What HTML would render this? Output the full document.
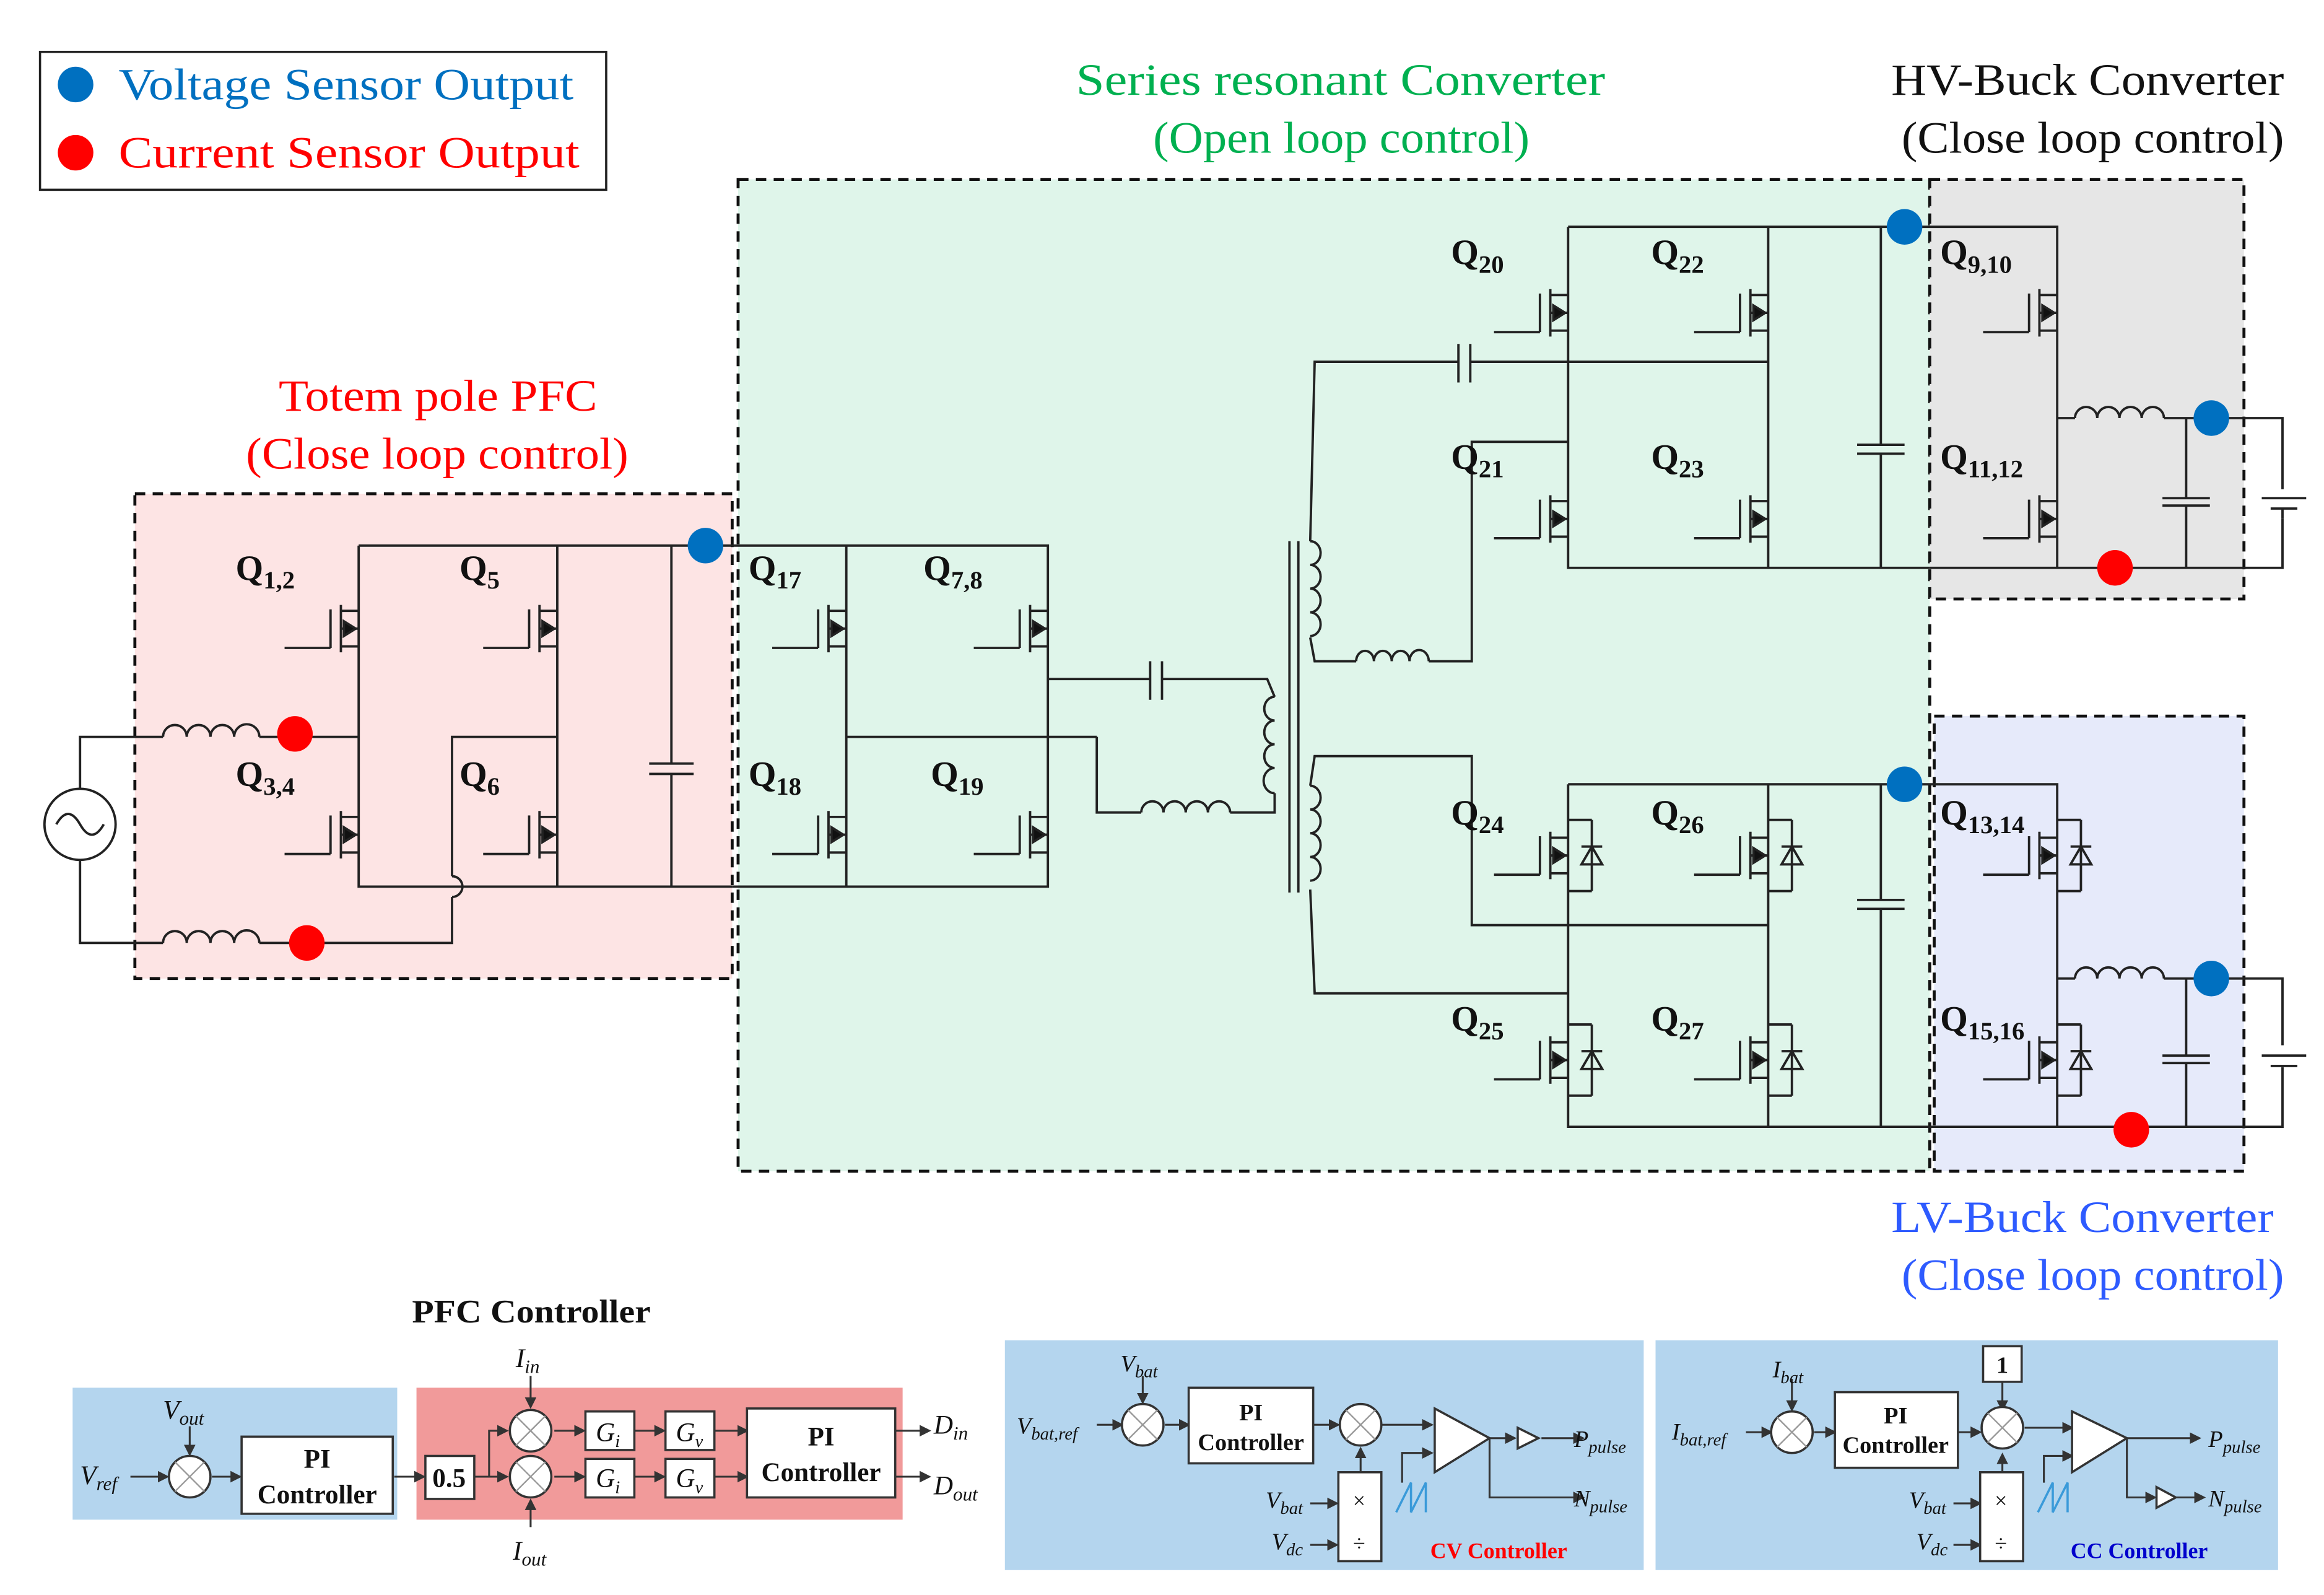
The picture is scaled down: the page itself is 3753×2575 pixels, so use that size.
<!DOCTYPE html>
<html><head><meta charset="utf-8"><style>
html,body{margin:0;padding:0;background:#fff;}
svg{display:block;}
text{font-family:"Liberation Serif",serif;}
</style></head><body>
<svg width="3753" height="2575" viewBox="0 0 1568 1075.8" preserveAspectRatio="none" xmlns="http://www.w3.org/2000/svg">
<defs>
<g id="m" stroke="#222" stroke-width="1.6" fill="none">
<line x1="-12" y1="-16" x2="-12" y2="16"/>
<line x1="-19" y1="-13" x2="-19" y2="13"/>
<line x1="-19" y1="13" x2="-50" y2="13"/>
<line x1="-12" y1="-12" x2="0" y2="-12"/>
<line x1="-12" y1="12" x2="0" y2="12"/>
<line x1="-12" y1="0" x2="0" y2="0"/>
<polygon points="-10,0 -2,-5 -2,5" fill="#111" transform="rotate(180 -6 0)"/>
</g>
<g id="d" stroke="#222" stroke-width="1.6" fill="none">
<use href="#m"/>
<line x1="0" y1="-24" x2="16" y2="-24"/><line x1="16" y1="-24" x2="16" y2="24"/><line x1="0" y1="24" x2="16" y2="24"/>
<polygon points="16,-6 9,6 23,6" fill="none"/><line x1="9" y1="-6" x2="23" y2="-6"/>
</g>
<marker id="a" markerWidth="6" markerHeight="6" refX="5" refY="3" orient="auto"><path d="M0,0 L6,3 L0,6z" fill="#333"/></marker>
</defs>

<!-- legend -->
<rect x="27" y="35" width="382" height="93" fill="#fff" stroke="#222" stroke-width="1.5"/>
<circle cx="51" cy="57" r="12" fill="#0070c0"/>
<circle cx="51" cy="103" r="12" fill="#ff0000"/>
<text x="80" y="67" font-size="30" fill="#0070c0" textLength="307" lengthAdjust="spacingAndGlyphs">Voltage Sensor Output</text>
<text x="80" y="113" font-size="30" fill="#ff0000" textLength="311" lengthAdjust="spacingAndGlyphs">Current Sensor Output</text>

<!-- titles -->
<text x="726" y="64" font-size="30" fill="#00b050" textLength="357" lengthAdjust="spacingAndGlyphs">Series resonant Converter</text>
<text x="778" y="103" font-size="30" fill="#00b050" textLength="254" lengthAdjust="spacingAndGlyphs">(Open loop control)</text>
<text x="1276" y="64" font-size="30" fill="#111" textLength="265" lengthAdjust="spacingAndGlyphs">HV-Buck Converter</text>
<text x="1283" y="103" font-size="30" fill="#111" textLength="258" lengthAdjust="spacingAndGlyphs">(Close loop control)</text>
<text x="188" y="277" font-size="30" fill="#ff0000" textLength="215" lengthAdjust="spacingAndGlyphs">Totem pole PFC</text>
<text x="166" y="316" font-size="30" fill="#ff0000" textLength="258" lengthAdjust="spacingAndGlyphs">(Close loop control)</text>
<text x="1276" y="831" font-size="30" fill="#2e5bff" textLength="258" lengthAdjust="spacingAndGlyphs">LV-Buck Converter</text>
<text x="1283" y="870" font-size="30" fill="#2e5bff" textLength="258" lengthAdjust="spacingAndGlyphs">(Close loop control)</text>

<!-- region boxes -->
<g stroke="#111" stroke-width="2" stroke-dasharray="7,5">
<rect x="91" y="333" width="403" height="327" fill="#fde4e4"/>
<rect x="498" y="121" width="804" height="669" fill="#dff5ea"/>
<rect x="1302" y="121" width="212" height="283" fill="#e6e6e6"/>
<rect x="1305" y="483" width="209" height="307" fill="#e6eafa"/>
</g>

<!-- wires -->
<g stroke="#222" stroke-width="1.6" fill="none">
<polyline points="242,368 476,368"/>
<polyline points="242,368 242,598 494,598"/>
<polyline points="376,368 376,598"/>
<polyline points="54,532 54,497 110,497"/>
<polyline points="175,497 242,497"/>
<polyline points="54,580 54,636 110,636"/>
<polyline points="175,636 305,636 305,605"/>
<path d="M305,605 A7,7 0 0 0 305,591"/>
<polyline points="305,591 305,497 376,497"/>
<path d="M110,497 a8,8 0 0 1 16,0 a8,8 0 0 1 16,0 a8,8 0 0 1 16,0 a8,8 0 0 1 17,0"/>
<path d="M110,636 a8,8 0 0 1 16,0 a8,8 0 0 1 16,0 a8,8 0 0 1 16,0 a8,8 0 0 1 17,0"/>
<line x1="453" y1="368" x2="453" y2="515"/><line x1="453" y1="522" x2="453" y2="598"/>
<line x1="438" y1="515" x2="468" y2="515"/><line x1="438" y1="522" x2="468" y2="522"/>
<polyline points="476,368 707,368 707,598 494,598"/>
<line x1="571" y1="368" x2="571" y2="598"/>
<line x1="571" y1="497" x2="740" y2="497"/>
<polyline points="707,458 776,458"/><polyline points="784,458 855,458 860,470"/>
<line x1="776" y1="446" x2="776" y2="472"/><line x1="784" y1="446" x2="784" y2="472"/>
<polyline points="740,497 740,548 770,548"/>
<path d="M770,548 a7,7 0 0 1 15,0 a7,7 0 0 1 15,0 a7,7 0 0 1 15,0 a7,7 0 0 1 15,0"/>
<polyline points="830,548 860,548 860,535"/>
<path d="M860,470 a7,8 0 0 0 0,16 a7,8 0 0 0 0,16 a7,8 0 0 0 0,16 a7,8 0 0 0 0,17"/>
<line x1="870" y1="365" x2="870" y2="602"/><line x1="876" y1="365" x2="876" y2="602"/>
<path d="M884,365 a7,8 0 0 1 0,16 a7,8 0 0 1 0,16 a7,8 0 0 1 0,16 a7,8 0 0 1 0,16"/>
<path d="M884,530 a7,8 0 0 1 0,16 a7,8 0 0 1 0,16 a7,8 0 0 1 0,16 a7,8 0 0 1 0,16"/>
<polyline points="884,365 887,244 984,244"/><polyline points="992,244 1193,244"/>
<line x1="984" y1="232" x2="984" y2="258"/><line x1="992" y1="232" x2="992" y2="258"/>
<polyline points="884,430 887,446 915,446"/>
<path d="M915,446 a6,7 0 0 1 12,0 a6,7 0 0 1 12,0 a6,7 0 0 1 12,0 a6,7 0 0 1 13,0"/>
<polyline points="964,446 993,446 993,298 1058,298"/>
<polyline points="1058,153 1285,153"/><polyline points="1058,153 1058,383 1302,383"/>
<line x1="1193" y1="153" x2="1193" y2="383"/>
<line x1="1269" y1="153" x2="1269" y2="300"/><line x1="1269" y1="306" x2="1269" y2="383"/>
<line x1="1253" y1="300" x2="1285" y2="300"/><line x1="1253" y1="306" x2="1285" y2="306"/>
<polyline points="1285,153 1388,153 1388,383"/>
<polyline points="1302,383 1540,383 1540,350"/>
<polyline points="1388,282 1400,282"/>
<path d="M1400,282 a7,7 0 0 1 15,0 a7,7 0 0 1 15,0 a7,7 0 0 1 15,0 a7,7 0 0 1 15,0"/>
<polyline points="1460,282 1540,282 1540,330"/>
<line x1="1475" y1="282" x2="1475" y2="336"/><line x1="1475" y1="341" x2="1475" y2="383"/>
<line x1="1459" y1="336" x2="1491" y2="336"/><line x1="1459" y1="341" x2="1491" y2="341"/>
<line x1="1526" y1="336" x2="1556" y2="336"/><line x1="1532" y1="343" x2="1550" y2="343"/>
<line x1="1540" y1="343" x2="1540" y2="350"/>
<polyline points="884,530 887,510 993,510 993,624 1193,624"/>
<polyline points="884,600 887,670 1058,670"/>
<polyline points="1058,529 1285,529"/><polyline points="1058,529 1058,760 1302,760"/>
<line x1="1193" y1="529" x2="1193" y2="760"/>
<line x1="1269" y1="529" x2="1269" y2="607"/><line x1="1269" y1="613" x2="1269" y2="760"/>
<line x1="1253" y1="607" x2="1285" y2="607"/><line x1="1253" y1="613" x2="1285" y2="613"/>
<polyline points="1285,529 1388,529 1388,760"/>
<polyline points="1302,760 1540,760 1540,720"/>
<polyline points="1388,660 1400,660"/>
<path d="M1400,660 a7,7 0 0 1 15,0 a7,7 0 0 1 15,0 a7,7 0 0 1 15,0 a7,7 0 0 1 15,0"/>
<polyline points="1460,660 1540,660 1540,705"/>
<line x1="1475" y1="660" x2="1475" y2="712"/><line x1="1475" y1="717" x2="1475" y2="760"/>
<line x1="1459" y1="712" x2="1491" y2="712"/><line x1="1459" y1="717" x2="1491" y2="717"/>
<line x1="1526" y1="712" x2="1556" y2="712"/><line x1="1532" y1="719" x2="1550" y2="719"/>
<line x1="1540" y1="719" x2="1540" y2="720"/>
</g>
<circle cx="54" cy="556" r="24" fill="#fff" stroke="#222" stroke-width="1.6"/>
<path d="M38,556 q8,-14 16,0 t16,0" fill="none" stroke="#222" stroke-width="1.6"/>

<use href="#m" x="242" y="424"/><use href="#m" x="376" y="424"/>
<use href="#m" x="242" y="563"/><use href="#m" x="376" y="563"/>
<use href="#m" x="571" y="424"/><use href="#m" x="707" y="424"/>
<use href="#m" x="571" y="563"/><use href="#m" x="707" y="563"/>
<use href="#m" x="1058" y="211"/><use href="#m" x="1193" y="211"/>
<use href="#m" x="1058" y="350"/><use href="#m" x="1193" y="350"/>
<use href="#m" x="1388" y="211"/><use href="#m" x="1388" y="350"/>
<use href="#d" x="1058" y="577"/><use href="#d" x="1193" y="577"/>
<use href="#d" x="1058" y="715"/><use href="#d" x="1193" y="715"/>
<use href="#d" x="1388" y="577"/><use href="#d" x="1388" y="715"/>

<g font-size="24" font-weight="bold" fill="#111">
<text x="159" y="391">Q<tspan font-size="17" dy="6">1,2</tspan></text>
<text x="310" y="391">Q<tspan font-size="17" dy="6">5</tspan></text>
<text x="159" y="530">Q<tspan font-size="17" dy="6">3,4</tspan></text>
<text x="310" y="530">Q<tspan font-size="17" dy="6">6</tspan></text>
<text x="505" y="391">Q<tspan font-size="17" dy="6">17</tspan></text>
<text x="623" y="391">Q<tspan font-size="17" dy="6">7,8</tspan></text>
<text x="505" y="530">Q<tspan font-size="17" dy="6">18</tspan></text>
<text x="628" y="530">Q<tspan font-size="17" dy="6">19</tspan></text>
<text x="979" y="178">Q<tspan font-size="17" dy="6">20</tspan></text>
<text x="1114" y="178">Q<tspan font-size="17" dy="6">22</tspan></text>
<text x="979" y="316">Q<tspan font-size="17" dy="6">21</tspan></text>
<text x="1114" y="316">Q<tspan font-size="17" dy="6">23</tspan></text>
<text x="1309" y="178">Q<tspan font-size="17" dy="6">9,10</tspan></text>
<text x="1309" y="316">Q<tspan font-size="17" dy="6">11,12</tspan></text>
<text x="979" y="556">Q<tspan font-size="17" dy="6">24</tspan></text>
<text x="1114" y="556">Q<tspan font-size="17" dy="6">26</tspan></text>
<text x="979" y="695">Q<tspan font-size="17" dy="6">25</tspan></text>
<text x="1114" y="695">Q<tspan font-size="17" dy="6">27</tspan></text>
<text x="1309" y="556">Q<tspan font-size="17" dy="6">13,14</tspan></text>
<text x="1309" y="695">Q<tspan font-size="17" dy="6">15,16</tspan></text>
</g>

<g fill="#0070c0"><circle cx="476" cy="368" r="12"/><circle cx="1285" cy="153" r="12"/><circle cx="1492" cy="282" r="12"/><circle cx="1285" cy="529" r="12"/><circle cx="1492" cy="660" r="12"/></g>
<g fill="#ff0000"><circle cx="199" cy="495" r="12"/><circle cx="207" cy="636" r="12"/><circle cx="1427" cy="383" r="12"/><circle cx="1438" cy="762" r="12"/></g>

<!-- PFC controller -->
<text x="278" y="892" font-size="22" font-weight="bold" fill="#111" textLength="161" lengthAdjust="spacingAndGlyphs">PFC Controller</text>
<rect x="49" y="936" width="219" height="89" fill="#b4d5ee"/>
<rect x="281" y="936" width="328" height="89" fill="#f19a9a"/>
<g stroke="#333" stroke-width="1.3" fill="none" marker-end="url(#a)">
<line x1="88" y1="996" x2="113" y2="996"/><line x1="128" y1="962" x2="128" y2="981"/>
<line x1="143" y1="996" x2="162" y2="996"/><line x1="266" y1="996" x2="286" y2="996"/>
<polyline points="320,996 330,996 330,965 342,965"/><line x1="320" y1="996" x2="342" y2="996"/>
<line x1="358" y1="928" x2="358" y2="949"/><line x1="358" y1="1030" x2="358" y2="1012"/>
<line x1="374" y1="965" x2="394" y2="965"/><line x1="374" y1="996" x2="394" y2="996"/>
<line x1="428" y1="965" x2="448" y2="965"/><line x1="428" y1="996" x2="448" y2="996"/>
<line x1="482" y1="965" x2="504" y2="965"/><line x1="482" y1="996" x2="504" y2="996"/>
<line x1="604" y1="965" x2="627" y2="965"/><line x1="604" y1="996" x2="627" y2="996"/>
</g>
<g fill="#fff" stroke="#333" stroke-width="1.5">
<circle cx="128" cy="996" r="14"/><circle cx="358" cy="965" r="14"/><circle cx="358" cy="996" r="14"/>
<rect x="163" y="969" width="102" height="52"/><rect x="287" y="982" width="33" height="29"/>
<rect x="395" y="952" width="33" height="26"/><rect x="395" y="984" width="33" height="26"/>
<rect x="449" y="952" width="33" height="26"/><rect x="449" y="984" width="33" height="26"/>
<rect x="504" y="950" width="100" height="60"/>
</g>
<g stroke="#999" stroke-width="1"><path d="M118,986 l20,20 M138,986 l-20,20 M348,955 l20,20 M368,955 l-20,20 M348,986 l20,20 M368,986 l-20,20"/></g>
<g fill="#111" font-size="18">
<text x="214" y="990" text-anchor="middle" font-weight="bold">PI</text>
<text x="214" y="1014" text-anchor="middle" font-weight="bold">Controller</text>
<text x="303" y="1003" text-anchor="middle" font-weight="bold">0.5</text>
<text x="554" y="975" text-anchor="middle" font-weight="bold">PI</text>
<text x="554" y="999" text-anchor="middle" font-weight="bold">Controller</text>
<g font-style="italic">
<text x="110" y="957">V<tspan font-size="13" dy="4">out</tspan></text>
<text x="54" y="1001">V<tspan font-size="13" dy="4">ref</tspan></text>
<text x="348" y="922">I<tspan font-size="13" dy="4">in</tspan></text>
<text x="346" y="1052">I<tspan font-size="13" dy="4">out</tspan></text>
<text x="402" y="972">G<tspan font-size="12" dy="4">i</tspan></text>
<text x="402" y="1003">G<tspan font-size="12" dy="4">i</tspan></text>
<text x="456" y="972">G<tspan font-size="12" dy="4">v</tspan></text>
<text x="456" y="1003">G<tspan font-size="12" dy="4">v</tspan></text>
<text x="630" y="967">D<tspan font-size="13" dy="4">in</tspan></text>
<text x="630" y="1008">D<tspan font-size="13" dy="4">out</tspan></text>
</g></g>

<!-- CV / CC controllers -->
<rect x="678" y="904" width="431" height="155" fill="#b4d5ee"/>
<rect x="1117" y="904" width="420" height="155" fill="#b4d5ee"/>
<g stroke="#333" stroke-width="1.3" fill="none" marker-end="url(#a)">
<line x1="740" y1="961" x2="757" y2="961"/><line x1="771" y1="928" x2="771" y2="946"/>
<line x1="786" y1="961" x2="802" y2="961"/><line x1="886" y1="961" x2="903" y2="961"/>
<line x1="918" y1="993" x2="918" y2="977"/>
<line x1="932" y1="961" x2="966" y2="961"/><polyline points="946,1000 946,980 966,980"/>
<line x1="1005" y1="970" x2="1022" y2="970"/><line x1="1040" y1="970" x2="1068" y2="970"/>
<polyline points="1005,970 1005,1010 1068,1010"/>
<line x1="884" y1="1014" x2="902" y2="1014"/><line x1="884" y1="1042" x2="902" y2="1042"/>
<line x1="1178" y1="966" x2="1195" y2="966"/><line x1="1209" y1="930" x2="1209" y2="951"/>
<line x1="1224" y1="966" x2="1238" y2="966"/><line x1="1321" y1="966" x2="1336" y2="966"/>
<line x1="1351" y1="932" x2="1351" y2="951"/><line x1="1351" y1="993" x2="1351" y2="981"/>
<line x1="1366" y1="963" x2="1398" y2="963"/><polyline points="1379,1000 1379,982 1398,982"/>
<line x1="1435" y1="970" x2="1484" y2="970"/><polyline points="1435,970 1435,1010 1454,1010"/>
<line x1="1468" y1="1010" x2="1487" y2="1010"/>
<line x1="1318" y1="1014" x2="1336" y2="1014"/><line x1="1318" y1="1042" x2="1336" y2="1042"/>
</g>
<g fill="#fff" stroke="#333" stroke-width="1.5">
<circle cx="771" cy="961" r="14"/><circle cx="918" cy="961" r="14"/>
<rect x="802" y="936" width="84" height="51"/><rect x="903" y="993" width="29" height="60"/>
<polygon points="968,950 968,993 1005,970"/><polygon points="1024,963 1024,977 1038,970"/>
<circle cx="1209" cy="966" r="14"/><circle cx="1351" cy="963" r="14"/>
<rect x="1238" y="939" width="83" height="51"/><rect x="1336" y="993" width="29" height="60"/>
<rect x="1338" y="908" width="26" height="24"/>
<polygon points="1398,952 1398,993 1435,970"/><polygon points="1455,1003 1455,1017 1468,1010"/>
</g>
<g stroke="#999" stroke-width="1"><path d="M761,951 l20,20 M781,951 l-20,20 M908,951 l20,20 M928,951 l-20,20 M1199,956 l20,20 M1219,956 l-20,20 M1341,953 l20,20 M1361,953 l-20,20"/></g>
<g stroke="#3a9ad9" stroke-width="1.5" fill="none"><path d="M942,1020 L952,1000 L952,1020 L962,1000 L962,1020"/><path d="M1375,1020 L1385,1000 L1385,1020 L1395,1000 L1395,1020"/></g>
<g fill="#111" font-size="16">
<text x="844" y="958" text-anchor="middle" font-weight="bold">PI</text>
<text x="844" y="978" text-anchor="middle" font-weight="bold">Controller</text>
<text x="1279" y="960" text-anchor="middle" font-weight="bold">PI</text>
<text x="1279" y="980" text-anchor="middle" font-weight="bold">Controller</text>
<text x="1351" y="926" text-anchor="middle" font-weight="bold">1</text>
<text x="917" y="1017" text-anchor="middle" font-size="15">×</text><text x="917" y="1046" text-anchor="middle" font-size="15">÷</text>
<text x="1350" y="1017" text-anchor="middle" font-size="15">×</text><text x="1350" y="1046" text-anchor="middle" font-size="15">÷</text>
<text x="965" y="1051" font-weight="bold" fill="#ff0000" font-size="15">CV Controller</text>
<text x="1397" y="1051" font-weight="bold" fill="#0000cc" font-size="15">CC Controller</text>
<g font-style="italic">
<text x="756" y="925">V<tspan font-size="12" dy="4">bat</tspan></text>
<text x="686" y="967">V<tspan font-size="12" dy="4">bat,ref</tspan></text>
<text x="854" y="1017">V<tspan font-size="12" dy="4">bat</tspan></text>
<text x="858" y="1045">V<tspan font-size="12" dy="4">dc</tspan></text>
<text x="1062" y="976">P<tspan font-size="12" dy="4">pulse</tspan></text>
<text x="1062" y="1016">N<tspan font-size="12" dy="4">pulse</tspan></text>
<text x="1196" y="929">I<tspan font-size="12" dy="4">bat</tspan></text>
<text x="1128" y="971">I<tspan font-size="12" dy="4">bat,ref</tspan></text>
<text x="1288" y="1017">V<tspan font-size="12" dy="4">bat</tspan></text>
<text x="1293" y="1045">V<tspan font-size="12" dy="4">dc</tspan></text>
<text x="1490" y="976">P<tspan font-size="12" dy="4">pulse</tspan></text>
<text x="1490" y="1016">N<tspan font-size="12" dy="4">pulse</tspan></text>
</g></g>
</svg>
</body></html>
